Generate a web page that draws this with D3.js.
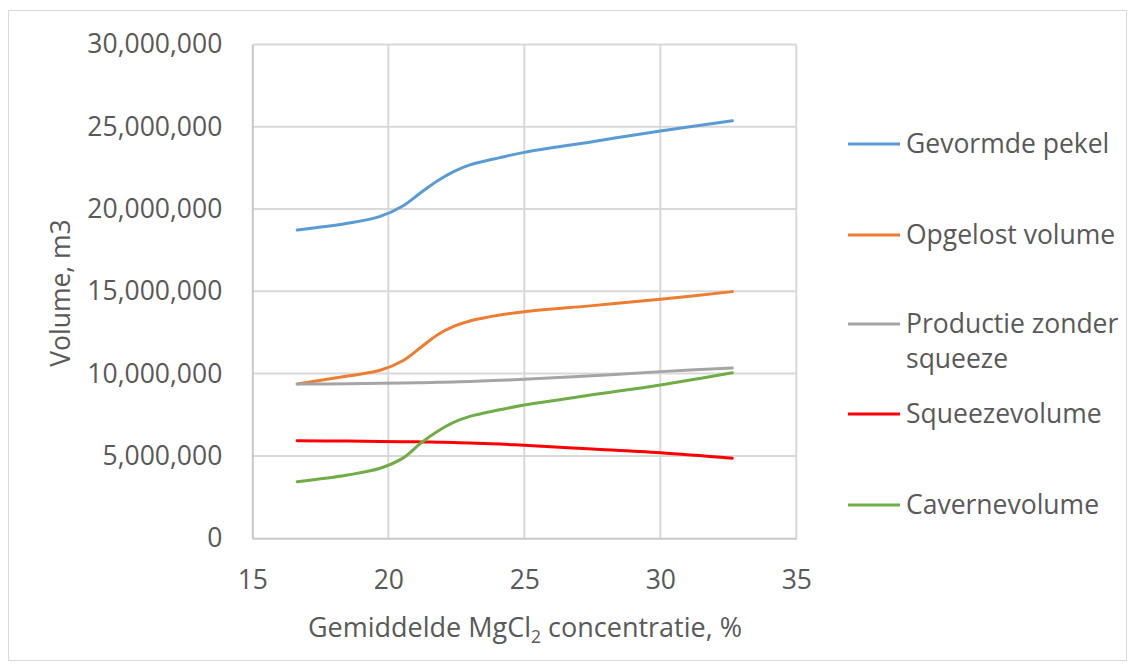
<!DOCTYPE html>
<html>
<head>
<meta charset="utf-8">
<script src="https://cdn.jsdelivr.net/npm/d3@7"></script>
<style>
  html, body { margin: 0; padding: 0; background: #fff; }
  svg text { font-family: "Open Sans", "Noto Sans", sans-serif; fill: #595959; }
</style>
</head>
<body>
<svg id="chart" width="1135" height="666"></svg>
<script>
// ---- data ----
const concentration = [16.65, 18.5, 19.7, 20.55, 21.2, 21.8, 22.4, 23.0, 24.1, 25, 27.5, 30, 32.65];
const gevormdePekel   = [18720000, 19130000, 19550000, 20200000, 21000000, 21700000, 22270000, 22680000, 23120000, 23440000, 24090000, 24740000, 25360000];
const opgelostVolume  = [9370000, 9850000, 10200000, 10800000, 11600000, 12350000, 12870000, 13200000, 13560000, 13760000, 14130000, 14510000, 14980000];
const productieZonder = [9370000, 9380000, 9410000, 9430000, 9450000, 9470000, 9490000, 9520000, 9590000, 9650000, 9870000, 10120000, 10340000];
const squeezeVolume   = [5920000, 5900000, 5880000, 5860000, 5850000, 5830000, 5810000, 5780000, 5720000, 5640000, 5420000, 5190000, 4860000];
const cavernevolume   = [3430000, 3840000, 4250000, 4880000, 5780000, 6480000, 7030000, 7400000, 7800000, 8090000, 8710000, 9310000, 10050000];

const seriesNames  = ["Gevormde pekel", "Opgelost volume", "Productie zonder squeeze", "Squeezevolume", "Cavernevolume"];
const seriesColors = ["#5b9bd5", "#ed7d31", "#a5a5a5", "#ff0000", "#70ad47"];
const seriesValues = [gevormdePekel, opgelostVolume, productieZonder, squeezeVolume, cavernevolume];

const xTicks = [15, 20, 25, 30, 35];
const yTicks = [0, 5000000, 10000000, 15000000, 20000000, 25000000, 30000000];

// ---- layout ----
const svg = d3.select("#chart");
const pLeft = 252.3, pRight = 796.3, pTop = 44.4, pBottom = 538.2;
const fs = 26.5;

svg.append("rect").attr("x", 8.5).attr("y", 10.5).attr("width", 1118).attr("height", 650)
  .attr("fill", "#fff").attr("stroke", "#d9d9d9").attr("stroke-width", 1);

const x = d3.scaleLinear().domain([15, 35]).range([pLeft, pRight]);
const y = d3.scaleLinear().domain([0, 30000000]).range([pBottom, pTop]);

// gridlines
const grid = svg.append("g");
grid.selectAll("line.h").data(yTicks.slice(1)).enter().append("line")
  .attr("x1", pLeft).attr("x2", pRight).attr("y1", d => y(d)).attr("y2", d => y(d))
  .attr("stroke", "#d9d9d9").attr("stroke-width", 2);
grid.selectAll("line.v").data(xTicks.slice(1)).enter().append("line")
  .attr("y1", pTop).attr("y2", pBottom).attr("x1", d => x(d)).attr("x2", d => x(d))
  .attr("stroke", "#d9d9d9").attr("stroke-width", 2);

// axes
const fmt = d3.format(",");
const yAxis = d3.axisLeft(y).tickValues(yTicks).tickSize(0).tickPadding(30).tickFormat(d => fmt(d));
const gy = svg.append("g").attr("transform", `translate(${pLeft},0)`).call(yAxis);
gy.select(".domain").attr("stroke", "#c8c8c8").attr("stroke-width", 2);
gy.selectAll("text").attr("font-size", fs).style("font-family", "'Open Sans', sans-serif").attr("fill", "#595959");

const xAxis = d3.axisBottom(x).tickValues(xTicks).tickSize(0).tickPadding(32).tickFormat(d => d);
const gx = svg.append("g").attr("transform", `translate(0,${pBottom})`).call(xAxis);
gx.select(".domain").attr("stroke", "#c8c8c8").attr("stroke-width", 2);
gx.selectAll("text").attr("font-size", fs).style("font-family", "'Open Sans', sans-serif").attr("fill", "#595959");

// lines
const line = d3.line().x((d, i) => x(concentration[i])).y(d => y(d)).curve(d3.curveCatmullRom.alpha(0.5));
svg.append("g").selectAll("path").data(seriesValues).enter().append("path")
  .attr("d", d => line(d)).attr("fill", "none")
  .attr("stroke", (d, i) => seriesColors[i]).attr("stroke-width", 3)
  .attr("stroke-linecap", "round");

// axis titles
const xt = svg.append("text").attr("x", 525).attr("y", 637).attr("text-anchor", "middle").attr("font-size", 27);
xt.append("tspan").text("Gemiddelde MgCl");
xt.append("tspan").attr("font-size", 27 * 0.65).attr("dy", 6).text("2");
xt.append("tspan").attr("dy", -6).text(" concentratie, %");

svg.append("text").attr("transform", "translate(70,293) rotate(-90)")
  .attr("text-anchor", "middle").attr("font-size", fs).text("Volume, m3");

// legend
const legendY = [144, 235, 324, 414, 505];
const lg = svg.append("g");
seriesNames.forEach((name, i) => {
  lg.append("line").attr("x1", 848).attr("x2", 900).attr("y1", legendY[i]).attr("y2", legendY[i])
    .attr("stroke", seriesColors[i]).attr("stroke-width", 3);
  const t = lg.append("text").attr("x", 906).attr("y", legendY[i]).attr("dy", "0.35em").attr("font-size", fs);
  if (name === "Productie zonder squeeze") {
    t.append("tspan").attr("x", 906).text("Productie zonder");
    t.append("tspan").attr("x", 906).attr("dy", 35).text("squeeze");
  } else {
    t.text(name);
  }
});
</script>
</body>
</html>
